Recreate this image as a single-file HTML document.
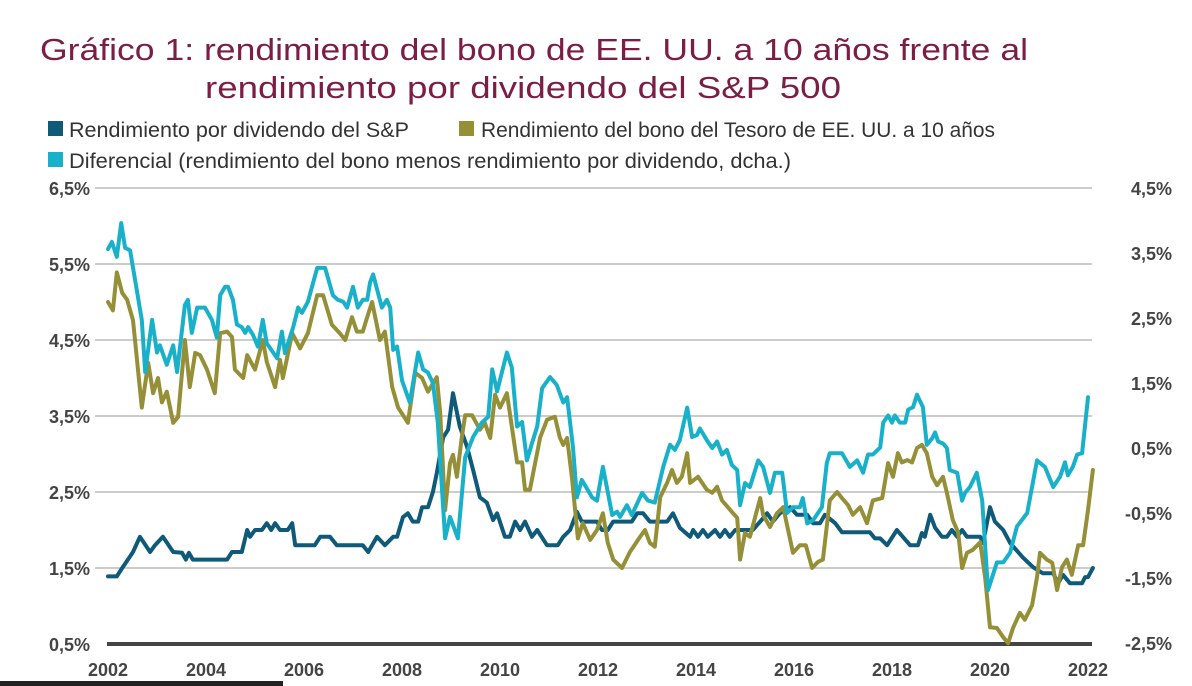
<!DOCTYPE html>
<html><head><meta charset="utf-8"><style>
html,body{margin:0;padding:0;background:#fff;overflow:hidden;}
svg{display:block;font-family:"Liberation Sans",sans-serif;}
.t{fill:#7b1d45;font-size:31px;}
.lg{fill:#333;font-size:21px;font-family:"Liberation Sans Narrow","Liberation Sans",sans-serif;}
.tk{fill:#444;font-size:18px;font-weight:bold;}
</style></head><body>
<svg id="chart" width="1192" height="686" viewBox="0 0 1192 686">
<text class="t" x="40" y="60" textLength="988" lengthAdjust="spacingAndGlyphs">Gráfico 1: rendimiento del bono de EE. UU. a 10 años frente al</text>
<text class="t" x="205" y="98" textLength="636" lengthAdjust="spacingAndGlyphs">rendimiento por dividendo del S&amp;P 500</text>
<g>
<rect x="48" y="121" width="15" height="15" fill="#0e5a78"/>
<text class="lg" x="69" y="137" textLength="340" lengthAdjust="spacingAndGlyphs">Rendimiento por dividendo del S&amp;P</text>
<rect x="459" y="121" width="15" height="15" fill="#958f38"/>
<text class="lg" x="481" y="137" textLength="514" lengthAdjust="spacingAndGlyphs">Rendimiento del bono del Tesoro de EE. UU. a 10 años</text>
<rect x="48" y="152" width="15" height="15" fill="#19b0ca"/>
<text class="lg" x="69" y="168" textLength="722" lengthAdjust="spacingAndGlyphs">Diferencial (rendimiento del bono menos rendimiento por dividendo, dcha.)</text>
</g>
<g id="grid"></g><g id="ticks"></g><g id="lines"></g>
<rect x="0" y="681" width="283" height="5" fill="#222"/>
</svg>
<script>
const leftTicks=[6.5,5.5,4.5,3.5,2.5,1.5,0.5];
const rightTicks=[4.5,3.5,2.5,1.5,0.5,-0.5,-1.5,-2.5];
const yearTicks=[2002,2004,2006,2008,2010,2012,2014,2016,2018,2020,2022];
const bondSeries=[[2002.00,5.00],[2002.10,4.89],[2002.18,5.39],[2002.29,5.12],[2002.39,5.03],[2002.51,4.76],[2002.69,3.61],[2002.82,4.20],[2002.92,3.80],[2003.02,4.00],[2003.10,3.68],[2003.20,3.82],[2003.33,3.41],[2003.43,3.49],[2003.57,4.50],[2003.67,3.88],[2003.78,4.33],[2003.88,4.30],[2004.02,4.11],[2004.18,3.80],[2004.29,4.59],[2004.43,4.61],[2004.53,4.54],[2004.59,4.11],[2004.76,4.00],[2004.84,4.30],[2005.00,4.11],[2005.16,4.50],[2005.24,4.21],[2005.41,3.88],[2005.51,4.24],[2005.57,4.00],[2005.76,4.59],[2005.92,4.39],[2006.08,4.59],[2006.27,5.09],[2006.39,5.09],[2006.57,4.70],[2006.73,4.59],[2006.84,4.50],[2006.98,4.80],[2007.08,4.61],[2007.20,4.61],[2007.29,4.80],[2007.39,5.00],[2007.55,4.50],[2007.65,4.61],[2007.80,3.88],[2007.92,3.61],[2008.12,3.41],[2008.27,4.07],[2008.41,4.00],[2008.53,3.82],[2008.71,4.01],[2008.78,3.54],[2008.88,2.26],[2008.98,2.88],[2009.04,2.99],[2009.12,2.70],[2009.22,3.22],[2009.29,3.51],[2009.43,3.51],[2009.59,3.32],[2009.69,3.41],[2009.80,3.21],[2009.90,3.78],[2010.00,3.61],[2010.14,3.80],[2010.35,2.89],[2010.45,2.89],[2010.51,2.53],[2010.61,2.53],[2010.82,3.22],[2010.96,3.45],[2011.12,3.49],[2011.22,3.22],[2011.29,3.12],[2011.37,3.21],[2011.47,2.68],[2011.59,1.89],[2011.69,2.09],[2011.84,1.87],[2011.98,2.00],[2012.10,2.22],[2012.20,1.83],[2012.31,1.61],[2012.49,1.50],[2012.65,1.71],[2012.86,1.91],[2012.96,2.00],[2013.06,1.83],[2013.16,1.78],[2013.27,2.43],[2013.41,2.62],[2013.51,2.79],[2013.61,2.62],[2013.71,2.70],[2013.82,3.01],[2013.88,2.62],[2014.04,2.70],[2014.22,2.53],[2014.33,2.49],[2014.43,2.57],[2014.53,2.39],[2014.73,2.24],[2014.84,2.16],[2014.90,1.61],[2015.00,1.96],[2015.10,1.91],[2015.31,2.42],[2015.37,2.20],[2015.51,2.04],[2015.65,2.22],[2015.78,2.30],[2015.98,1.70],[2016.12,1.80],[2016.24,1.80],[2016.37,1.50],[2016.49,1.58],[2016.59,1.61],[2016.73,2.39],[2016.88,2.50],[2016.98,2.42],[2017.10,2.33],[2017.20,2.20],[2017.35,2.30],[2017.49,2.09],[2017.61,2.39],[2017.80,2.42],[2017.92,2.88],[2018.02,2.70],[2018.12,3.01],[2018.20,2.89],[2018.31,2.92],[2018.41,2.89],[2018.51,3.08],[2018.61,3.12],[2018.71,3.01],[2018.82,2.70],[2018.92,2.59],[2019.04,2.70],[2019.12,2.49],[2019.24,2.13],[2019.35,1.97],[2019.43,1.50],[2019.53,1.70],[2019.65,1.74],[2019.80,1.84],[2019.90,1.38],[2020.00,0.72],[2020.14,0.71],[2020.27,0.59],[2020.37,0.51],[2020.47,0.71],[2020.61,0.91],[2020.71,0.82],[2020.86,1.01],[2020.96,1.38],[2021.02,1.70],[2021.16,1.61],[2021.27,1.57],[2021.37,1.21],[2021.47,1.51],[2021.57,1.61],[2021.67,1.41],[2021.80,1.80],[2021.90,1.80],[2022.00,2.26],[2022.10,2.79]];
const dividendSeries=[[2002.00,1.39],[2002.18,1.39],[2002.29,1.50],[2002.51,1.71],[2002.65,1.91],[2002.86,1.71],[2002.96,1.80],[2003.12,1.91],[2003.33,1.71],[2003.51,1.70],[2003.59,1.61],[2003.65,1.70],[2003.73,1.61],[2004.43,1.61],[2004.53,1.71],[2004.73,1.71],[2004.84,2.00],[2004.90,1.91],[2005.00,2.00],[2005.14,2.00],[2005.24,2.09],[2005.33,2.00],[2005.41,2.09],[2005.51,2.00],[2005.67,2.00],[2005.76,2.09],[2005.82,1.80],[2006.22,1.80],[2006.33,1.91],[2006.53,1.91],[2006.67,1.80],[2007.20,1.80],[2007.31,1.71],[2007.49,1.91],[2007.65,1.80],[2007.82,1.91],[2007.90,1.91],[2008.02,2.17],[2008.12,2.22],[2008.22,2.11],[2008.33,2.11],[2008.41,2.30],[2008.53,2.30],[2008.63,2.50],[2008.71,2.75],[2008.84,3.22],[2008.94,3.32],[2009.04,3.80],[2009.18,3.36],[2009.33,3.09],[2009.45,2.79],[2009.59,2.43],[2009.73,2.36],[2009.86,2.13],[2009.94,2.22],[2010.10,1.91],[2010.20,1.91],[2010.31,2.11],[2010.41,2.00],[2010.51,2.11],[2010.65,1.91],[2010.76,2.00],[2010.96,1.80],[2011.18,1.80],[2011.29,1.91],[2011.43,2.00],[2011.57,2.24],[2011.67,2.11],[2011.98,2.11],[2012.08,2.00],[2012.20,2.00],[2012.31,2.11],[2012.69,2.11],[2012.80,2.22],[2012.92,2.22],[2013.06,2.11],[2013.41,2.11],[2013.53,2.22],[2013.67,2.03],[2013.88,1.91],[2013.94,2.00],[2014.04,1.91],[2014.14,2.00],[2014.24,1.91],[2014.39,2.00],[2014.49,1.91],[2014.59,2.00],[2014.69,1.91],[2014.80,2.00],[2015.16,2.00],[2015.31,2.11],[2015.45,2.22],[2015.57,2.11],[2015.71,2.22],[2015.92,2.30],[2016.06,2.20],[2016.27,2.20],[2016.39,2.09],[2016.53,2.09],[2016.63,2.20],[2016.84,2.09],[2016.98,1.97],[2017.55,1.97],[2017.65,1.89],[2017.76,1.89],[2017.90,1.80],[2018.10,2.00],[2018.22,1.91],[2018.37,1.80],[2018.53,1.80],[2018.61,1.96],[2018.67,1.91],[2018.78,2.20],[2018.88,2.03],[2019.02,1.91],[2019.12,1.91],[2019.22,2.00],[2019.33,1.91],[2019.43,2.00],[2019.53,1.91],[2019.80,1.91],[2019.86,1.83],[2020.00,2.30],[2020.10,2.11],[2020.27,2.00],[2020.41,1.83],[2020.67,1.64],[2020.88,1.51],[2021.08,1.43],[2021.29,1.43],[2021.39,1.30],[2021.49,1.41],[2021.63,1.30],[2021.88,1.30],[2021.94,1.38],[2022.00,1.38],[2022.10,1.50]];
const spreadSeries=[[2002.00,3.56],[2002.08,3.67],[2002.18,3.44],[2002.27,3.96],[2002.35,3.58],[2002.45,3.54],[2002.69,2.47],[2002.76,1.67],[2002.90,2.47],[2003.00,1.97],[2003.06,2.08],[2003.20,1.78],[2003.33,2.08],[2003.41,1.67],[2003.57,2.70],[2003.63,2.78],[2003.71,2.27],[2003.82,2.66],[2003.98,2.66],[2004.12,2.47],[2004.22,2.20],[2004.29,2.85],[2004.39,2.98],[2004.45,2.98],[2004.55,2.78],[2004.63,2.40],[2004.73,2.36],[2004.80,2.27],[2004.86,2.36],[2004.96,2.24],[2005.06,2.06],[2005.16,2.47],[2005.24,2.11],[2005.45,1.88],[2005.55,2.29],[2005.61,1.96],[2005.78,2.36],[2005.88,2.66],[2005.96,2.58],[2006.08,2.75],[2006.27,3.27],[2006.43,3.27],[2006.59,2.85],[2006.69,2.78],[2006.80,2.75],[2006.88,2.66],[2007.00,2.98],[2007.10,2.66],[2007.20,2.78],[2007.29,2.78],[2007.35,3.05],[2007.41,3.17],[2007.59,2.66],[2007.69,2.78],[2007.76,2.66],[2007.82,2.01],[2007.90,2.06],[2008.00,1.54],[2008.16,1.20],[2008.33,1.97],[2008.43,1.71],[2008.53,1.66],[2008.63,1.50],[2008.73,0.89],[2008.88,-0.89],[2008.98,-0.56],[2009.14,-0.89],[2009.29,0.36],[2009.45,0.67],[2009.63,0.89],[2009.76,0.98],[2009.84,1.71],[2009.94,1.37],[2010.14,1.97],[2010.24,1.74],[2010.35,0.83],[2010.45,0.90],[2010.55,0.31],[2010.65,0.57],[2010.76,0.83],[2010.86,1.42],[2011.02,1.59],[2011.16,1.47],[2011.29,1.20],[2011.37,1.28],[2011.49,0.51],[2011.57,-0.26],[2011.67,0.01],[2011.88,-0.26],[2011.98,-0.31],[2012.10,0.21],[2012.29,-0.53],[2012.39,-0.48],[2012.45,-0.56],[2012.59,-0.38],[2012.69,-0.53],[2012.90,-0.19],[2013.02,-0.31],[2013.16,-0.34],[2013.33,0.21],[2013.47,0.55],[2013.57,0.47],[2013.67,0.62],[2013.82,1.12],[2013.92,0.67],[2014.02,0.70],[2014.08,0.80],[2014.22,0.62],[2014.33,0.50],[2014.43,0.60],[2014.53,0.40],[2014.63,0.47],[2014.73,0.24],[2014.84,0.16],[2014.90,-0.38],[2015.00,-0.04],[2015.10,-0.10],[2015.27,0.31],[2015.37,0.21],[2015.51,-0.19],[2015.61,0.12],[2015.76,0.12],[2015.86,-0.50],[2015.98,-0.41],[2016.12,-0.41],[2016.18,-0.27],[2016.27,-0.66],[2016.39,-0.61],[2016.57,-0.41],[2016.67,0.27],[2016.73,0.42],[2016.98,0.42],[2017.14,0.21],[2017.29,0.31],[2017.41,0.12],[2017.51,0.40],[2017.61,0.40],[2017.76,0.51],[2017.82,0.89],[2017.92,1.00],[2018.00,0.89],[2018.06,1.00],[2018.16,0.89],[2018.27,0.89],[2018.33,1.09],[2018.43,1.13],[2018.51,1.32],[2018.63,1.13],[2018.71,0.55],[2018.82,0.65],[2018.88,0.74],[2018.94,0.60],[2019.04,0.57],[2019.12,0.50],[2019.18,0.16],[2019.33,0.12],[2019.43,-0.31],[2019.49,-0.19],[2019.59,-0.10],[2019.73,0.12],[2019.84,-0.31],[2019.96,-1.69],[2020.14,-1.26],[2020.27,-1.26],[2020.41,-1.11],[2020.55,-0.71],[2020.76,-0.50],[2020.96,0.31],[2021.12,0.21],[2021.29,-0.10],[2021.43,0.06],[2021.53,0.28],[2021.59,0.08],[2021.69,0.21],[2021.78,0.40],[2021.88,0.42],[2022.00,1.28]];

const NS='http://www.w3.org/2000/svg';
function xS(yr){return 108+(yr-2002)*49;}
function yL(v){return 188+(6.5-v)*76;}
function yR(v){return 188+(4.5-v)*65;}
function fmt(v){return v.toFixed(1).replace('.',',')+'%';}
function mk(tag,parent,attrs){const e=document.createElementNS(NS,tag);for(const k in attrs)e.setAttribute(k,attrs[k]);parent.appendChild(e);return e;}
const grid=document.getElementById('grid'),ticks=document.getElementById('ticks'),lines=document.getElementById('lines');
leftTicks.forEach((v,i)=>{
  const last=i===leftTicks.length-1;
  const g=mk('line',grid,{x1:last?107:95,x2:1092,y1:yL(v),y2:yL(v),stroke:last?'#444':'#bbb','stroke-width':last?4:1.5});
  
  
  const t=mk('text',ticks,{x:90,y:yL(v)+7,'text-anchor':'end',class:'tk'});
  t.textContent=fmt(v);
  
  
});
rightTicks.forEach(v=>{
  const t=mk('text',ticks,{x:1172,y:yR(v)+7,'text-anchor':'end',class:'tk'});
  t.textContent=fmt(v);
  
  
});
yearTicks.forEach(yr=>{
  const t=mk('text',ticks,{x:xS(yr),y:676,'text-anchor':'middle',class:'tk'});
  t.textContent=yr;
  
  
});
function draw(series,yf,color,name){
  const d=series.map((p,i)=>(i?'L':'M')+xS(p[0]).toFixed(1)+','+yf(p[1]).toFixed(1)).join('');
  const p=mk('path',lines,{d:d,fill:'none',stroke:color,'stroke-width':4,'stroke-linejoin':'round','stroke-linecap':'round'});
  
  
}
draw(dividendSeries,yL,'#0e5a78','dividend-yield-line');
draw(bondSeries,yL,'#958f38','bond-yield-line');
draw(spreadSeries,yR,'#19b0ca','spread-line');
</script>
</body></html>
